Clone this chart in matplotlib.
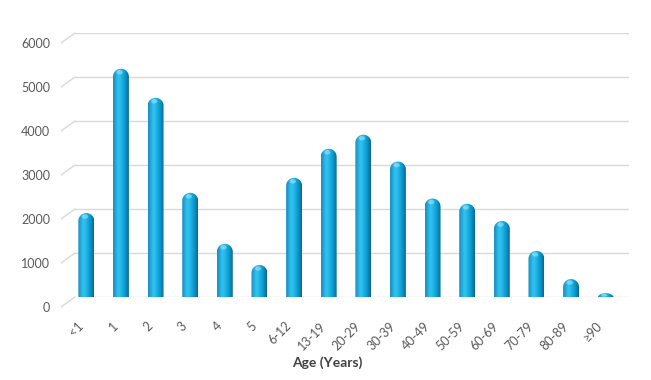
import matplotlib
matplotlib.use('Agg')
import matplotlib.pyplot as plt
import matplotlib.transforms as mtransforms
from matplotlib.path import Path
from matplotlib.patches import PathPatch, Ellipse
from matplotlib.colors import LinearSegmentedColormap
import numpy as np

# data
ages = ['<1', '1', '2', '3', '4', '5', '6-12', '13-19', '20-29', '30-39',
        '40-49', '50-59', '60-69', '70-79', '80-89', '≥90']
counts = [2000, 5280, 4620, 2460, 1300, 820, 2800, 3460, 3780, 3170,
          2330, 2210, 1820, 1140, 500, 180]
yticks = [0, 1000, 2000, 3000, 4000, 5000, 6000]

plt.rcParams['font.family'] = ['Lato', 'DejaVu Sans']

fig = plt.figure(figsize=(6.51, 3.80), dpi=100)
# back wall of the (fake) 3D plot
ax = fig.add_axes([75 / 651, 83 / 380, 554 / 651, 264 / 380])
ax.set_xlim(-0.5, len(ages) - 0.5)
ax.set_ylim(0, 6000)
for s in ax.spines.values():
    s.set_visible(False)

ax.set_yticks(yticks)
ax.grid(axis='y', color='#D9D9D9', lw=1)
ax.set_axisbelow(True)
ax.tick_params(length=0, pad=0, labelsize=9, labelcolor='#595959')

def px(dx, dy):
    return mtransforms.ScaledTranslation(dx / fig.dpi, dy / fig.dpi, fig.dpi_scale_trans)

for lab in ax.get_yticklabels():
    lab.set_transform(lab.get_transform() + px(-25, -10))

# floor diagonals at the left edge
blend = mtransforms.blended_transform_factory(ax.transAxes, ax.transData)
for v in yticks:
    ax.annotate('', xy=(0, v), xycoords=blend, xytext=(-14, -10),
                textcoords='offset pixels',
                arrowprops=dict(arrowstyle='-', color='#D9D9D9', lw=1,
                                shrinkA=0, shrinkB=0))

ax.set_xticks(range(len(ages)))
ax.set_xticklabels(ages)
for lab in ax.get_xticklabels():
    lab.set_rotation(45)
    lab.set_rotation_mode('anchor')
    lab.set_ha('right')
    lab.set_va('center')
    lab.set_transform(lab.get_transform() + px(-11, -27))

# cylinder bars, sitting slightly in front of the back wall
bar_tr = ax.transData + px(-6, -4)
cmap = LinearSegmentedColormap.from_list('cyl', [
    (0.0, '#1B8DBE'), (0.18, '#22ACDD'), (0.35, '#38C3F0'),
    (0.6, '#14AEE2'), (0.85, '#0C88BA'), (1.0, '#0A6790')])
grad = np.linspace(0, 1, 64)[np.newaxis, :]

w = 0.46
ry_cap = 182
ry_bot = 45
t = np.linspace(0, np.pi, 30)
for i, v in enumerate(counts):
    ry = min(ry_cap, v * 0.6)
    x0, x1 = i - w / 2, i + w / 2
    verts = [(x0, 0), (x0, v - ry)]
    verts += list(zip(i - w / 2 * np.cos(t), v - ry + ry * np.sin(t)))
    verts += [(x1, v - ry), (x1, 0)]
    verts += list(zip(i + w / 2 * np.cos(t), -ry_bot * np.sin(t)))
    verts.append((x0, 0))
    codes = [Path.MOVETO] + [Path.LINETO] * (len(verts) - 2) + [Path.CLOSEPOLY]
    patch = PathPatch(Path(verts, codes), facecolor='none', edgecolor='none',
                      transform=bar_tr, zorder=3)
    ax.add_patch(patch)
    im = ax.imshow(grad, cmap=cmap, extent=(x0, x1, -ry_bot, v), aspect='auto',
                   interpolation='bicubic', transform=bar_tr, zorder=3)
    im.set_clip_path(patch)
    hl = Ellipse((i - w * 0.08, v - ry * 0.45), w * 0.4, ry * 0.55,
                 facecolor='white', alpha=0.35, edgecolor='none',
                 transform=bar_tr, zorder=4)
    ax.add_patch(hl)
    hl.set_clip_path(patch)

ax.set_xlim(-0.5, len(ages) - 0.5)
ax.set_ylim(0, 6000)

fig.text(327 / 651, 17 / 380, 'Age (Years)', ha='center', va='center',
         fontsize=10, fontweight='bold', color='#404040')

fig.savefig('out.png', dpi=100)
